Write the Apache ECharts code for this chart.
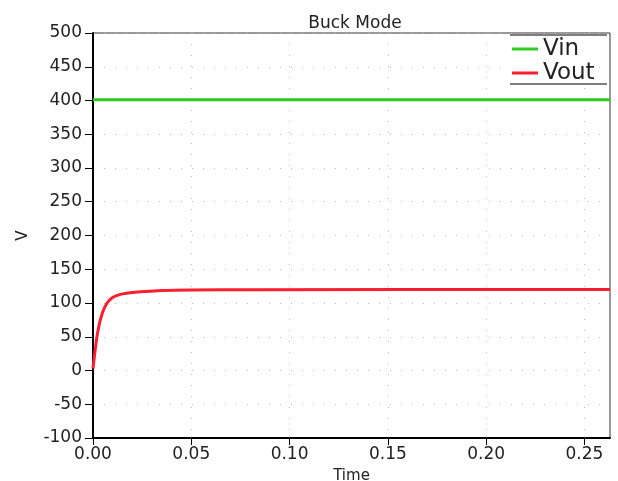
<!DOCTYPE html>
<html>
<head>
<meta charset="utf-8">
<script src="https://cdn.jsdelivr.net/npm/echarts@6/dist/echarts.min.js"></script>
<style>
  html, body { margin: 0; padding: 0; background: #fff; }
  #main { width: 618px; height: 481px; }
</style>
</head>
<body>
<div id="main"></div>
<script>
// values
var vinData = [[0, 401], [0.263, 401]];
var voutData = [
  [0, 3], [0.001, 28], [0.002, 50], [0.003, 66], [0.004, 78], [0.005, 87],
  [0.006, 94], [0.007, 99], [0.008, 103], [0.010, 108], [0.012, 111],
  [0.015, 113.5], [0.020, 115.5], [0.026, 117], [0.035, 118.5],
  [0.050, 119.3], [0.080, 119.8], [0.263, 120]
];
var xTicks = [0, 0.05, 0.10, 0.15, 0.20, 0.25];

var font = 'DejaVu Sans';
var myChart = echarts.init(document.getElementById('main'));
var option = {
  animation: false,
  title: {
    text: 'Buck Mode',
    left: 350,
    textAlign: 'center',
    top: 10,
    textStyle: { fontFamily: font, fontSize: 17, fontWeight: 'normal', color: '#222' }
  },
  legend: {
    orient: 'vertical',
    left: 510,
    top: 35,
    itemWidth: 26,
    itemHeight: 3,
    itemGap: 0,
    itemStyle: { borderWidth: 0 },
    backgroundColor: '#fff',
    padding: [2, 2, 2, 2],
    icon: 'rect',
    textStyle: { fontFamily: font, fontSize: 23, lineHeight: 24, color: '#222' },
    data: ['Vin', 'Vout']
  },
  graphic: [
    { type: 'line', shape: { x1: 510, y1: 35, x2: 607, y2: 35 }, style: { stroke: '#000', lineWidth: 1 }, z: 100 },
    { type: 'line', shape: { x1: 510, y1: 84, x2: 607, y2: 84 }, style: { stroke: '#000', lineWidth: 1 }, z: 100 }
  ],
  grid: {
    left: 93, right: 8, top: 33, bottom: 43,
    outerBoundsMode: 'none', containLabel: false,
    show: true, borderColor: '#333', borderWidth: 1
  },
  xAxis: {
    type: 'value',
    min: 0, max: 0.263, interval: 0.05,
    name: 'Time', nameLocation: 'middle', nameGap: 31,
    nameTextStyle: { fontFamily: font, fontSize: 15, color: '#222' },
    axisLine: { onZero: false, lineStyle: { color: '#000', width: 2 } },
    axisTick: { length: 7, customValues: xTicks, lineStyle: { color: '#000' } },
    axisLabel: {
      fontFamily: font, fontSize: 17, color: '#222', margin: 8,
      customValues: xTicks,
      formatter: function (v) { return v.toFixed(2); }
    },
    splitLine: { show: true, lineStyle: { color: '#bbb', type: [1, 10] } }
  },
  yAxis: {
    type: 'value',
    min: -100, max: 500, interval: 50,
    name: 'V', nameLocation: 'middle', nameGap: 62,
    nameTextStyle: { fontFamily: font, fontSize: 15, color: '#222' },
    axisLine: { show: true, lineStyle: { color: '#000', width: 2 } },
    axisTick: { show: true, length: 8, lineStyle: { color: '#000' } },
    axisLabel: { fontFamily: font, fontSize: 17, color: '#222', margin: 11 },
    splitLine: { show: true, lineStyle: { color: '#bbb', type: [1, 10] } }
  },
  series: [
    {
      name: 'Vin', type: 'line', data: vinData, showSymbol: false,
      lineStyle: { color: '#2ecc1e', width: 3 }, itemStyle: { color: '#2ecc1e' }
    },
    {
      name: 'Vout', type: 'line', data: voutData, showSymbol: false, smooth: 0.3,
      lineStyle: { color: '#ff1e2d', width: 3 }, itemStyle: { color: '#ff1e2d' }
    }
  ]
};
myChart.setOption(option);
</script>
</body>
</html>
